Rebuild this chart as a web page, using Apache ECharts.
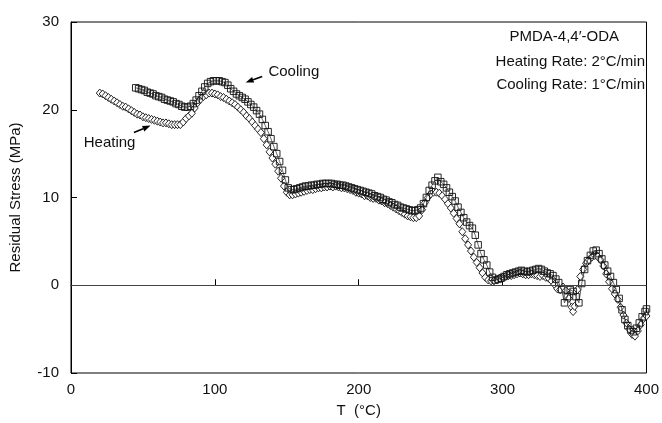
<!DOCTYPE html>
<html><head><meta charset="utf-8">
<script src="https://cdn.jsdelivr.net/npm/echarts@6/dist/echarts.min.js"></script>
<style>html,body{margin:0;padding:0;background:#fff}#c{width:662px;height:423px}</style>
</head><body><div id="c"></div>
<script>
// Heating (diamonds): temperature (°C) and residual stress (MPa)
var heatT = [20,22,24,26,28,30,32,34,36,38,40,42,44,46,48,50,52,54,56,58,60,62,64,66,68,70,72,74,76,78,80,82,84,86,88,90,92,94,96,98,100,102,104,106,108,110,112,114,116,118,120,122,124,126,128,130,132,134,136,138,140,142,144,146,148,150,152,154,156,158,160,162,164,166,168,170,172,174,176,178,180,182,184,186,188,190,192,194,196,198,200,202,204,206,208,210,212,214,216,218,220,222,224,226,228,230,232,234,236,238,240,242,244,246,248,250,252,254,256,258,260,262,264,266,268,270,272,274,276,278,280,282,284,286,288,290,292,294,296,298,300,302,304,306,308,310,312,314,316,318,320,322,324,326,328,330,332,334,336,338,340,342,344,346,348,349,350,352,354,356,358,360,362,364,366,368,370,372,374,376,378,380,382,384,386,388,390,392,394,396,398,400];
var heatS = [21.9,21.8,21.6,21.4,21.2,21.0,20.8,20.6,20.4,20.3,20.1,19.9,19.7,19.5,19.4,19.2,19.1,19.0,18.9,18.8,18.7,18.6,18.5,18.5,18.4,18.3,18.3,18.3,18.3,18.6,19.0,19.3,19.6,20.2,20.8,21.2,21.5,21.7,21.9,21.9,21.8,21.7,21.5,21.4,21.2,21.0,20.8,20.6,20.3,20.0,19.7,19.3,19.0,18.6,18.2,17.8,17.4,16.7,16.0,15.2,14.5,13.8,13.0,12.2,11.3,10.6,10.3,10.3,10.4,10.5,10.6,10.7,10.8,10.9,10.9,11.0,11.1,11.1,11.2,11.2,11.3,11.2,11.3,11.2,11.1,11.1,11.0,10.9,10.8,10.6,10.5,10.4,10.2,10.2,10.0,9.9,9.9,9.7,9.6,9.4,9.3,9.1,8.9,8.7,8.5,8.3,8.1,7.9,7.8,7.7,7.7,7.9,8.6,9.4,10.0,10.4,10.6,10.6,10.5,10.2,9.8,9.3,8.8,8.2,7.6,7.0,6.1,5.3,4.6,3.9,3.2,2.6,2.0,1.4,0.9,0.6,0.5,0.5,0.6,0.8,0.9,1.0,1.1,1.1,1.2,1.3,1.4,1.3,1.2,1.2,1.3,1.2,1.1,1.0,1.1,0.9,0.8,0.5,0.1,-0.4,-0.5,-0.2,-0.6,-1.5,-2.5,-3.0,-2.4,-0.5,1.0,1.8,2.5,2.9,3.2,3.4,3.3,2.9,2.2,1.3,0.4,-0.4,-1.0,-1.6,-2.5,-3.4,-4.3,-5.0,-5.6,-5.8,-5.2,-4.5,-3.8,-3.5];
// Cooling (squares)
var coolT = [45,47,49,51,53,55,57,59,61,63,65,67,69,71,73,75,77,79,81,83,85,87,89,91,93,95,97,99,101,103,105,107,109,111,113,115,117,119,121,123,125,127,129,131,133,135,137,139,141,143,145,147,149,151,153,155,157,159,161,163,165,167,169,171,173,175,177,179,181,183,185,187,189,191,193,195,197,199,201,203,205,207,209,211,213,215,217,219,221,223,225,227,229,231,233,235,237,239,241,243,245,247,249,251,253,255,257,259,261,263,265,267,269,271,273,275,277,279,281,283,285,287,289,291,293,295,297,299,301,303,305,307,309,311,313,315,317,319,321,323,325,327,329,331,333,335,337,339,341,343,345,347,349,351,353,355,357,359,361,363,365,367,369,371,373,375,377,379,381,383,385,387,389,391,393,395,397,399,400];
var coolS = [22.5,22.4,22.3,22.2,22.0,21.9,21.8,21.6,21.5,21.4,21.2,21.1,21.0,20.9,20.7,20.6,20.4,20.3,20.3,20.4,20.7,21.1,21.6,22.1,22.6,23.0,23.2,23.3,23.3,23.3,23.2,23.1,22.8,22.4,22.1,21.8,21.6,21.4,21.2,20.9,20.6,20.3,19.9,19.5,18.9,18.2,17.5,16.7,15.8,15.0,14.1,13.1,12.0,11.1,10.9,10.9,11.0,11.1,11.2,11.3,11.3,11.4,11.4,11.5,11.5,11.6,11.6,11.6,11.6,11.5,11.5,11.4,11.4,11.3,11.2,11.1,11.0,10.9,10.8,10.7,10.6,10.5,10.4,10.2,10.1,10.0,9.8,9.7,9.5,9.4,9.2,9.1,8.9,8.8,8.7,8.6,8.5,8.5,8.6,8.8,9.3,10.0,10.8,11.4,11.9,12.3,11.8,11.5,11.1,10.6,10.1,9.6,8.9,8.3,7.7,7.2,6.8,6.5,5.7,4.6,3.6,2.9,2.3,1.5,0.9,0.6,0.7,0.8,1.0,1.2,1.3,1.4,1.5,1.6,1.7,1.6,1.5,1.6,1.7,1.8,1.9,1.8,1.6,1.4,1.3,1.1,0.7,0.3,-0.5,-2.0,-1.3,-0.5,-0.7,-1.3,-2.0,0.2,1.8,2.8,3.4,3.9,4.0,3.6,3.0,2.3,1.6,1.0,0.3,-0.5,-1.5,-2.8,-3.9,-4.6,-5.1,-5.3,-4.9,-4.3,-3.6,-3.0,-2.7];
var xTicks = [0,100,200,300,400];
var yTicks = [-10,0,10,20,30];

function pairs(xs, ys){ return xs.map(function(x,i){ return [x, ys[i]]; }); }

var FONT = '"Liberation Sans", Arial, sans-serif';
var FS = 15;
var chart = echarts.init(document.getElementById('c'), null, {renderer:'canvas'});
var opt = {
  animation:false,
  backgroundColor:'#fff',
  grid:{left:68, right:11, top:22, bottom:48, show:true, borderColor:'#000', borderWidth:1, backgroundColor:'transparent'},
  xAxis:{type:'value', min:xTicks[0], max:xTicks[xTicks.length-1], interval:100,
    name:'T  (°C)', nameLocation:'middle', nameGap:30,
    nameTextStyle:{fontFamily:FONT, fontSize:FS, color:'#111'},
    axisLine:{lineStyle:{color:'#000', width:1}},
    axisTick:{inside:true, length:6, lineStyle:{color:'#000'}},
    axisLabel:{fontFamily:FONT, fontSize:FS, color:'#111', margin:9},
    splitLine:{show:false}},
  yAxis:{type:'value', min:yTicks[0], max:yTicks[yTicks.length-1], interval:10,
    name:'Residual Stress (MPa)', nameLocation:'middle', nameGap:48,
    nameTextStyle:{fontFamily:FONT, fontSize:FS, color:'#111'},
    axisLine:{lineStyle:{color:'#000', width:1}},
    axisTick:{inside:true, length:6, lineStyle:{color:'#000'}},
    axisLabel:{fontFamily:FONT, fontSize:FS, color:'#111', margin:12},
    splitLine:{show:false}},
  series:[
    {name:'Heating', type:'line', data:pairs(heatT, heatS),
      symbol:'diamond', symbolSize:[7,8], showAllSymbol:true,
      itemStyle:{color:'#fff', borderColor:'#111', borderWidth:0.9},
      lineStyle:{color:'#222', width:0.7},
      markLine:{silent:true, symbol:'none', label:{show:false},
        lineStyle:{color:'#444', width:1, type:'solid'}, data:[{yAxis:0}]},
      z:3},
    {name:'Cooling', type:'line', data:pairs(coolT, coolS),
      symbol:'rect', symbolSize:6.5, showAllSymbol:true,
      itemStyle:{color:'transparent', borderColor:'#111', borderWidth:0.9},
      lineStyle:{color:'#222', width:0.7},
      z:4}
  ]
};
chart.setOption(opt);

function arrow(p0, p1){
  var dx=p1[0]-p0[0], dy=p1[1]-p0[1], L=Math.sqrt(dx*dx+dy*dy), ux=dx/L, uy=dy/L;
  var hl=8, hw=3;
  var bx=p1[0]-ux*hl, by=p1[1]-uy*hl;
  return [
    {type:'line', shape:{x1:p0[0], y1:p0[1], x2:bx, y2:by}, style:{stroke:'#000', lineWidth:1.6}, z:10},
    {type:'polygon', shape:{points:[[p1[0],p1[1]],[bx-uy*hw,by+ux*hw],[bx+uy*hw,by-ux*hw]]}, style:{fill:'#000'}, z:10}
  ];
}
var px = function(d){ return chart.convertToPixel({gridIndex:0}, d); };
var hA0 = px([43.7,17.4]), hA1 = px([55.3,18.2]);
var cA0 = px([132.9,23.8]), cA1 = px([121.4,23.1]);
var hT = px([26.8,16.2]), cT = px([137.2,24.3]);
var g = [];
g = g.concat(arrow(hA0,hA1), arrow(cA0,cA1));
g.push({type:'text', x:hT[0], y:hT[1], style:{text:'Heating', font:FS+'px '+FONT, fill:'#111', textAlign:'center', textVerticalAlign:'middle'}, z:10});
g.push({type:'text', x:cT[0], y:cT[1], style:{text:'Cooling', font:FS+'px '+FONT, fill:'#111', textAlign:'left', textVerticalAlign:'middle'}, z:10});
g.push({type:'text', right:43, top:29, style:{text:'PMDA-4,4′-ODA', font:FS+'px '+FONT, fill:'#111'}, z:10});
g.push({type:'text', right:17, top:54, style:{text:'Heating Rate: 2°C/min', font:FS+'px '+FONT, fill:'#111'}, z:10});
g.push({type:'text', right:17, top:77, style:{text:'Cooling Rate: 1°C/min', font:FS+'px '+FONT, fill:'#111'}, z:10});
chart.setOption({graphic:g});
</script>
</body></html>
